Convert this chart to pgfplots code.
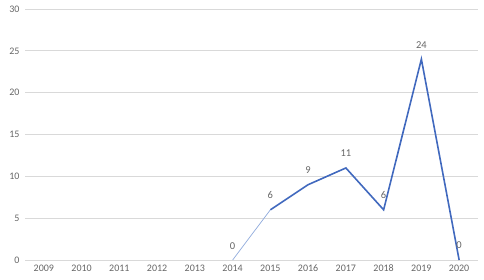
\documentclass[border=0pt]{standalone}
\usepackage{pgfplots}
\pgfplotsset{compat=1.18}
\usepackage{fontspec}
\setmainfont{Carlito}
\definecolor{lineblue}{HTML}{4169BE}
\definecolor{thinblue}{HTML}{8FAADC}
\definecolor{gridgray}{HTML}{D9D9D9}
\definecolor{textgray}{HTML}{666666}
\begin{document}
\begin{tikzpicture}[x=1pt,y=1pt]
\path[use as bounding box] (0,0) rectangle (484,280);
\begin{axis}[
  at={(25pt,20pt)}, anchor=south west,
  scale only axis, width=453pt, height=251pt,
  xmin=-0.5, xmax=11.5, ymin=0, ymax=30,
  xtick={0,...,11},
  xticklabels={2009,2010,2011,2012,2013,2014,2015,2016,2017,2018,2019,2020},
  ytick={0,5,...,30},
  axis line style={draw=none},
  axis x line*=bottom,
  x axis line style={draw=gridgray, line width=0.8pt},
  ymajorgrids, grid style={gridgray, line width=0.8pt},
  major tick length=0pt,
  tick label style={font=\fontsize{10}{12}\selectfont, text=textgray},
  /pgf/number format/assume math mode=true,
  yticklabel style={xshift=-2pt},
  xticklabel style={yshift=-1pt},
  clip=false,
  every node near coord/.style={font=\fontsize{10.5}{12}\selectfont, text=textgray, anchor=south, yshift=7pt},
]
\addplot[thinblue, line width=0.7pt, nodes near coords, point meta=explicit symbolic] coordinates {(5,0) [0] (6,6) []};
\addplot[lineblue, line width=1.6pt, nodes near coords, point meta=y] coordinates {(6,6) (7,9) (8,11) (9,6) (10,24) (11,0)};
\end{axis}
\end{tikzpicture}
\end{document}
